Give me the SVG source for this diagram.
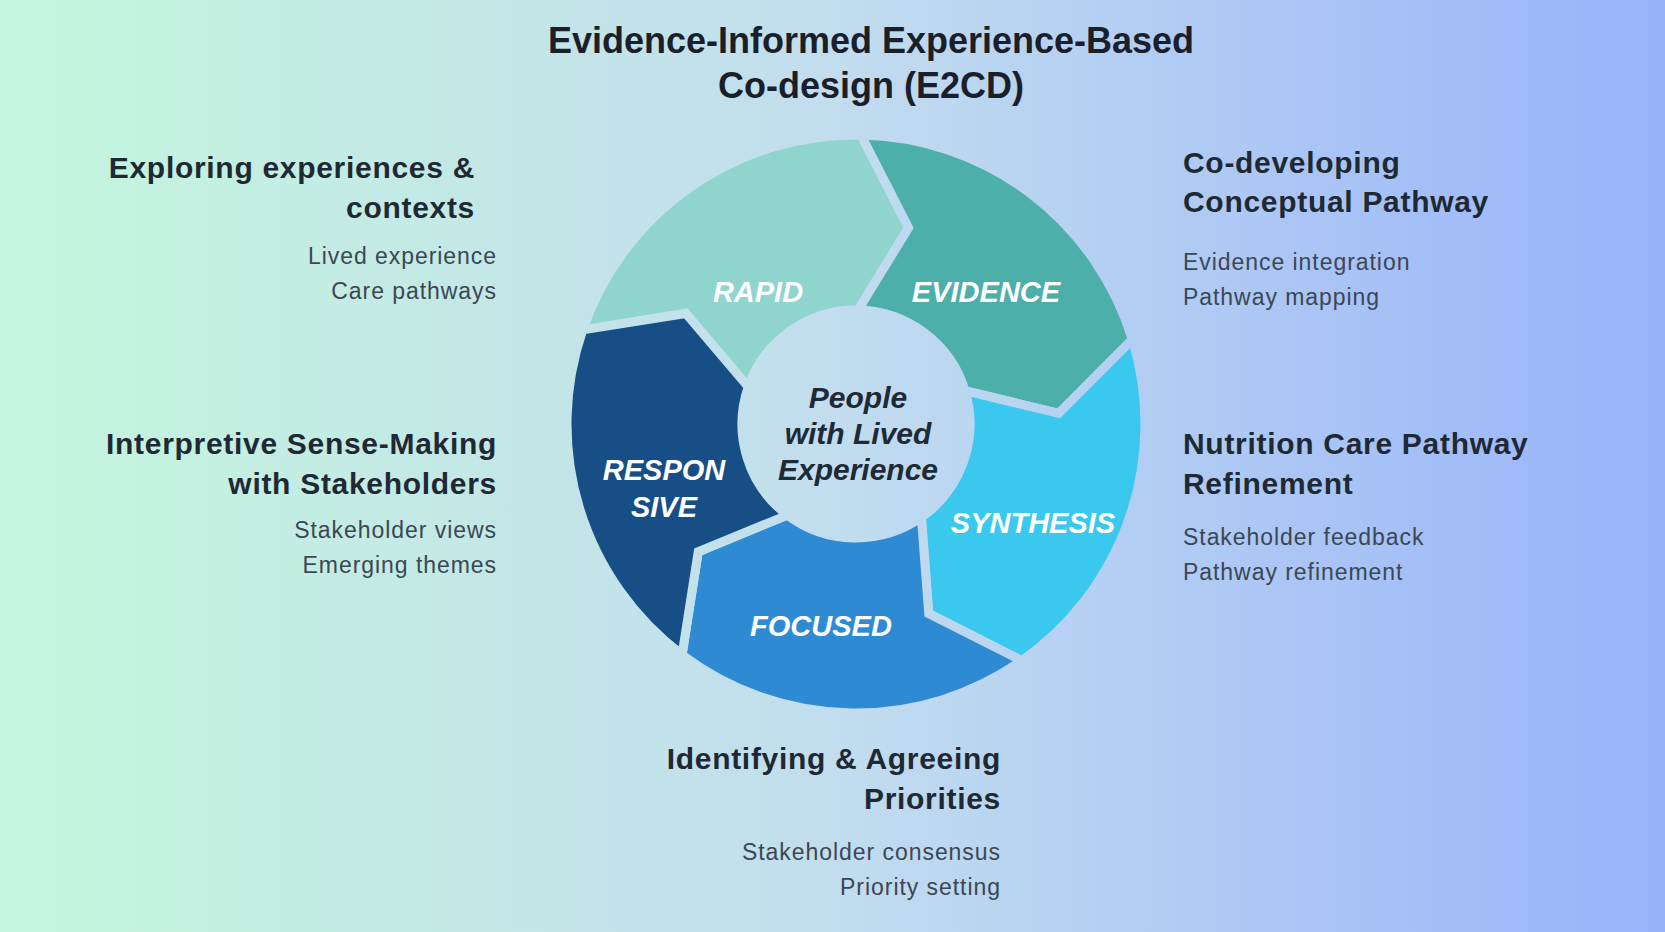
<svg xmlns="http://www.w3.org/2000/svg" width="1665" height="932" viewBox="0 0 1665 932">
  <defs>
    <linearGradient id="bg" gradientUnits="userSpaceOnUse" x1="0" y1="0" x2="1665" y2="0">
      <stop offset="0" stop-color="#c4f6dc"/>
      <stop offset="0.5" stop-color="#c2ddee"/>
      <stop offset="1" stop-color="#98b3fa"/>
    </linearGradient>
    <style>
      .seg { stroke: url(#bg); stroke-width: 9; stroke-linejoin: miter; }
      .title { font-family: "Liberation Sans", Arial, sans-serif; font-weight: bold; font-size: 36px; fill: #1a1f29; text-anchor: middle; }
      .head { font-family: "Liberation Sans", Arial, sans-serif; font-weight: bold; font-size: 30px; letter-spacing: 0.7px; fill: #1f2933; }
      .sub { font-family: "Liberation Sans", Arial, sans-serif; font-size: 23px; letter-spacing: 0.95px; fill: #3b4753; }
      .lbl { font-family: "Liberation Sans", Arial, sans-serif; font-weight: bold; font-style: italic; font-size: 29px; fill: #ffffff; text-anchor: middle; }
      .ctr { font-family: "Liberation Sans", Arial, sans-serif; font-weight: bold; font-style: italic; font-size: 30px; fill: #1e2a35; text-anchor: middle; }
      .r { text-anchor: end; }
    </style>
  </defs>

  <rect x="0" y="0" width="1665" height="932" fill="url(#bg)"/>

  <g id="title">
    <text class="title" x="871" y="53">Evidence-Informed Experience-Based</text>
    <text class="title" x="871" y="98">Co-design (E2CD)</text>
  </g>

  <g id="cycle">
    <g id="rapid">
      <path class="seg" fill="#8fd4cd" d="M582.74,329.91 A289,289 0 0 1 861.04,135.04 L908.54,227.92 L857.99,310.02 A114,114 0 0 0 748.21,386.89 L685.75,313.44 Z"/>
      <text class="lbl" x="758" y="302">RAPID</text>
    </g>
    <g id="evidence">
      <path class="seg" fill="#4dafa9" d="M861.04,135.04 A289,289 0 0 1 1132.37,339.51 L1058.72,413.37 L965.02,390.67 A114,114 0 0 0 857.99,310.02 L908.54,227.92 Z"/>
      <text class="lbl" x="986" y="302">EVIDENCE</text>
    </g>
    <g id="synthesis">
      <path class="seg" fill="#3ac8ee" d="M1132.37,339.51 A289,289 0 0 1 1021.76,660.73 L928.75,613.52 L921.39,517.38 A114,114 0 0 0 965.02,390.67 L1058.72,413.37 Z"/>
      <text class="lbl" x="1033" y="533">SYNTHESIS</text>
    </g>
    <g id="focused">
      <path class="seg" fill="#2e8bd3" d="M1021.76,660.73 A289,289 0 0 1 682.07,654.81 L698.24,551.75 L787.39,515.04 A114,114 0 0 0 921.39,517.38 L928.75,613.52 Z"/>
      <text class="lbl" x="821" y="636">FOCUSED</text>
    </g>
    <g id="responsive">
      <path class="seg" fill="#174e86" d="M682.07,654.81 A289,289 0 0 1 582.74,329.91 L685.75,313.44 L748.21,386.89 A114,114 0 0 0 787.39,515.04 L698.24,551.75 Z"/>
      <text class="lbl" x="664" y="480">RESPON</text>
      <text class="lbl" x="664" y="517">SIVE</text>
    </g>
    <g id="center">
      <text class="ctr" x="858" y="408">People</text>
      <text class="ctr" x="858" y="444">with Lived</text>
      <text class="ctr" x="858" y="480">Experience</text>
    </g>
  </g>

  <g id="connectors"></g>

  <g id="exploring">
    <text class="head r" x="475" y="178">Exploring experiences &amp;</text>
    <text class="head r" x="475" y="218">contexts</text>
    <text class="sub r" x="497" y="264">Lived experience</text>
    <text class="sub r" x="497" y="299">Care pathways</text>
  </g>

  <g id="interpretive">
    <text class="head r" x="497" y="454">Interpretive Sense-Making</text>
    <text class="head r" x="497" y="494">with Stakeholders</text>
    <text class="sub r" x="497" y="538">Stakeholder views</text>
    <text class="sub r" x="497" y="573">Emerging themes</text>
  </g>

  <g id="codeveloping">
    <text class="head" x="1183" y="173">Co-developing</text>
    <text class="head" x="1183" y="212">Conceptual Pathway</text>
    <text class="sub" x="1183" y="270">Evidence integration</text>
    <text class="sub" x="1183" y="305">Pathway mapping</text>
  </g>

  <g id="nutrition">
    <text class="head" x="1183" y="454">Nutrition Care Pathway</text>
    <text class="head" x="1183" y="494">Refinement</text>
    <text class="sub" x="1183" y="545">Stakeholder feedback</text>
    <text class="sub" x="1183" y="580">Pathway refinement</text>
  </g>

  <g id="identifying">
    <text class="head r" x="1001" y="769">Identifying &amp; Agreeing</text>
    <text class="head r" x="1001" y="809">Priorities</text>
    <text class="sub r" x="1001" y="860">Stakeholder consensus</text>
    <text class="sub r" x="1001" y="895">Priority setting</text>
  </g>
</svg>
